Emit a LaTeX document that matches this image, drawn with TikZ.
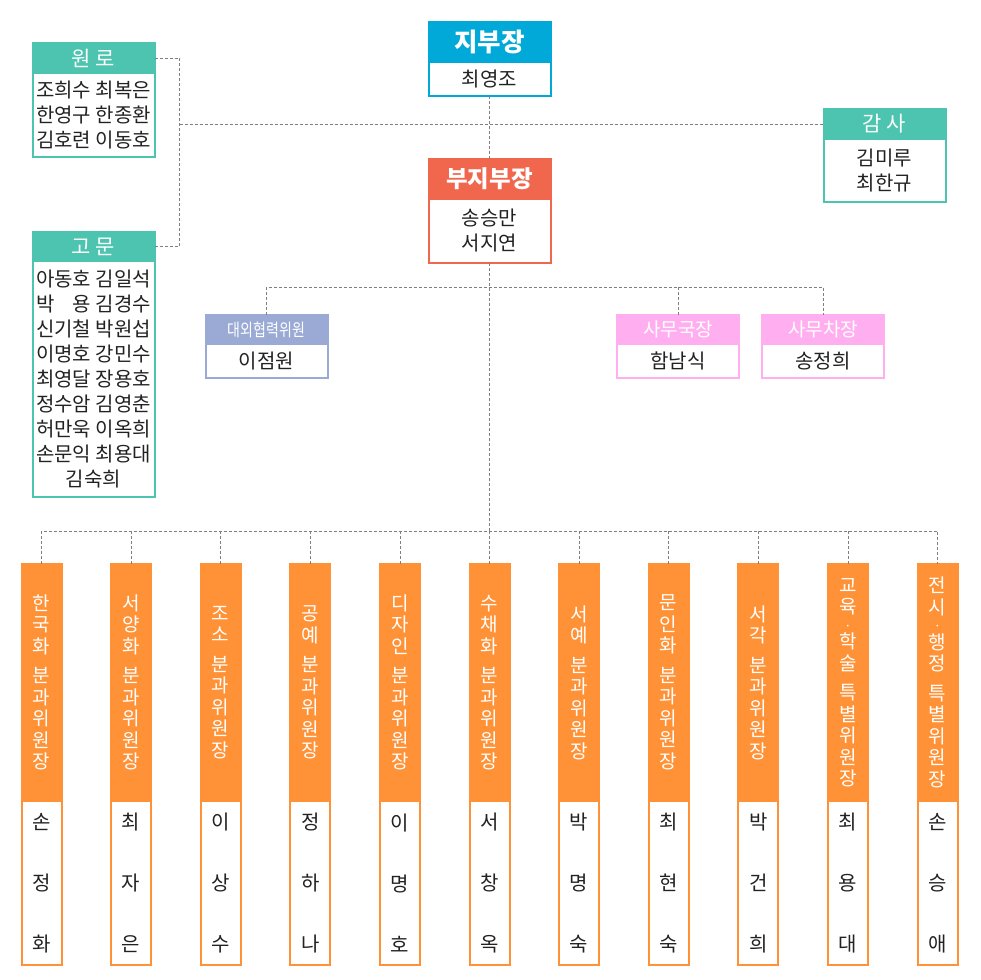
\documentclass[tikz,border=0pt]{standalone}
\usepackage{fontspec}
\setmainfont{Noto Sans CJK KR}
\newfontfamily\narrowkr[FakeStretch=0.8]{Noto Sans CJK KR}
\usetikzlibrary{positioning}

\definecolor{chiefblue}{HTML}{00A9D7}
\definecolor{vicered}{HTML}{F0674E}
\definecolor{elderteal}{HTML}{4CC4AF}
\definecolor{liaisonblue}{HTML}{9AAAD5}
\definecolor{officepink}{HTML}{FFAFF0}
\definecolor{deptorange}{HTML}{FF9237}
\definecolor{linkgray}{HTML}{7F7F7F}
\definecolor{ink}{HTML}{222222}

\newcommand\bigttl{\fontsize{25.5}{30}\selectfont\bfseries}
\newcommand\midttl{\fontsize{23.5}{28}\selectfont\bfseries}
\newcommand\grpttl{\fontsize{21}{25}\selectfont}
\newcommand\offttl{\fontsize{19}{23}\selectfont}
\newcommand\tinyttl{\narrowkr\fontsize{17.5}{20}\selectfont}
\newcommand\namefont{\fontsize{20}{25}\selectfont}
\newcommand\colttl{\fontsize{19}{21.5}\selectfont}
\newcommand\colname{\fontsize{20}{61}\selectfont}
\newcommand\middot{{\fontsize{12}{12}\selectfont ·}}

\begin{document}
\begin{tikzpicture}[x=1pt,y=-1pt,
  boxhead/.style={fill=#1,draw=#1,line width=2pt,text=white,inner sep=0pt,outer sep=0pt,minimum width=122,align=center,anchor=north},
  boxbody/.style={fill=white,draw=#1,line width=2pt,text=ink,inner sep=0pt,outer sep=0pt,minimum width=122,align=center,anchor=north},
  colhead/.style={boxhead=deptorange,minimum width=40,minimum height=237,font=\colttl},
  colbody/.style={boxbody=deptorange,minimum width=40,minimum height=164,font=\colname},
  link/.style={draw=linkgray,line width=0.8pt,dash pattern=on 3pt off 2pt}]
  \useasboundingbox (0,0) rectangle (980,980);

  %TOP
  \node[boxhead=chiefblue,minimum height=40,font=\bigttl] (jibuH) at (489.5,22) {지부장};
  \node[boxbody=chiefblue,minimum height=34,font=\namefont,below=0pt of jibuH] (jibuB) {최영조};

  \node[boxhead=vicered,minimum height=40,font=\midttl] (buH) at (489.5,159) {부지부장};
  \node[boxbody=vicered,minimum height=64,font=\namefont,below=0pt of buH] (buB) {송승만\\서지연};

  \node[boxhead=elderteal,minimum height=30,font=\grpttl] (gamH) at (884.5,109) {감 사};
  \node[boxbody=elderteal,minimum height=63,font=\namefont,below=0pt of gamH] (gamB) {김미루\\최한규};

  %LEFT
  \node[boxhead=elderteal,minimum height=30,font=\grpttl] (wonH) at (93.5,43) {원 로};
  \node[boxbody=elderteal,minimum height=84,font=\namefont,below=0pt of wonH] (wonB) {조희수 최복은\\한영구 한종환\\김호련 이동호};

  \node[boxhead=elderteal,minimum height=29,font=\grpttl] (gomH) at (93.5,232) {고 문};
  \node[boxbody=elderteal,minimum height=236,font=\namefont,below=0pt of gomH] (gomB) {아동호 김일석\\박\hphantom{동}용 김경수\\신기철 박원섭\\이명호 강민수\\최영달 장용호\\정수암 김영춘\\허만욱 이옥희\\손문익 최용대\\김숙희};

  %MIDDLE
  \node[boxhead=liaisonblue,minimum height=29,font=\tinyttl] (daeH) at (266.5,315) {대외협력위원};
  \node[boxbody=liaisonblue,minimum height=34,font=\namefont,below=0pt of daeH] (daeB) {이점원};

  \node[boxhead=officepink,minimum height=29,font=\offttl] (sagukH) at (678,315) {사무국장};
  \node[boxbody=officepink,minimum height=34,font=\namefont,below=0pt of sagukH] (sagukB) {함남식};

  \node[boxhead=officepink,minimum height=29,font=\offttl] (sachaH) at (823,315) {사무차장};
  \node[boxbody=officepink,minimum height=34,font=\namefont,below=0pt of sachaH] (sachaB) {송정희};

  %COLUMNS
  \node[colhead] (c1H) at (41.5,564) {한\\국\\화\\[8pt]분\\과\\위\\원\\장};
  \node[colbody,below=0pt of c1H] (c1B) {손\\정\\화};
  \node[colhead] (c2H) at (131.1,564) {서\\양\\화\\[8pt]분\\과\\위\\원\\장};
  \node[colbody,below=0pt of c2H] (c2B) {최\\자\\은};
  \node[colhead] (c3H) at (220.7,564) {조\\소\\[8pt]분\\과\\위\\원\\장};
  \node[colbody,below=0pt of c3H] (c3B) {이\\상\\수};
  \node[colhead] (c4H) at (310.3,564) {공\\예\\[8pt]분\\과\\위\\원\\장};
  \node[colbody,below=0pt of c4H] (c4B) {정\\하\\나};
  \node[colhead] (c5H) at (399.9,564) {디\\자\\인\\[8pt]분\\과\\위\\원\\장};
  \node[colbody,below=0pt of c5H] (c5B) {이\\명\\호};
  \node[colhead] (c6H) at (489.5,564) {수\\채\\화\\[8pt]분\\과\\위\\원\\장};
  \node[colbody,below=0pt of c6H] (c6B) {서\\창\\옥};
  \node[colhead] (c7H) at (579.1,564) {서\\예\\[8pt]분\\과\\위\\원\\장};
  \node[colbody,below=0pt of c7H] (c7B) {박\\명\\숙};
  \node[colhead] (c8H) at (668.7,564) {문\\인\\화\\[8pt]분\\과\\위\\원\\장};
  \node[colbody,below=0pt of c8H] (c8B) {최\\현\\숙};
  \node[colhead] (c9H) at (758.3,564) {서\\각\\[8pt]분\\과\\위\\원\\장};
  \node[colbody,below=0pt of c9H] (c9B) {박\\건\\희};
  \node[colhead] (c10H) at (847.9,564) {교\\육\\[-5pt]\middot\\[-3pt]학\\술\\[8pt]특\\별\\위\\원\\장};
  \node[colbody,below=0pt of c10H] (c10B) {최\\용\\대};
  \node[colhead] (c11H) at (937.5,564) {전\\시\\[-5pt]\middot\\[-3pt]행\\정\\[8pt]특\\별\\위\\원\\장};
  \node[colbody,below=0pt of c11H] (c11B) {손\\승\\애};

  %LINKS
  \coordinate (midbus) at (489.5,287);
  \coordinate (lowbus) at (489.5,531);
  \draw[link] (jibuB.south) -- (buH.north);
  \draw[link] (wonH.east) -- ++(25,0) coordinate (bend) |- (gomH.east);
  \draw[link] (bend |- gamH.west) -- (gamH.west);
  \draw[link] (buB.south) -- (lowbus);
  \draw[link] (daeH.north) |- (sachaH.north |- midbus) -- (sachaH.north);
  \draw[link] (sagukH.north) -- (sagukH.north |- midbus);
  \draw[link] (c1H.north) |- (c11H.north |- lowbus) -- (c11H.north);
  \draw[link] (c2H.north) -- (c2H.north |- lowbus);
  \draw[link] (c3H.north) -- (c3H.north |- lowbus);
  \draw[link] (c4H.north) -- (c4H.north |- lowbus);
  \draw[link] (c5H.north) -- (c5H.north |- lowbus);
  \draw[link] (c6H.north) -- (c6H.north |- lowbus);
  \draw[link] (c7H.north) -- (c7H.north |- lowbus);
  \draw[link] (c8H.north) -- (c8H.north |- lowbus);
  \draw[link] (c9H.north) -- (c9H.north |- lowbus);
  \draw[link] (c10H.north) -- (c10H.north |- lowbus);
\end{tikzpicture}
\end{document}
